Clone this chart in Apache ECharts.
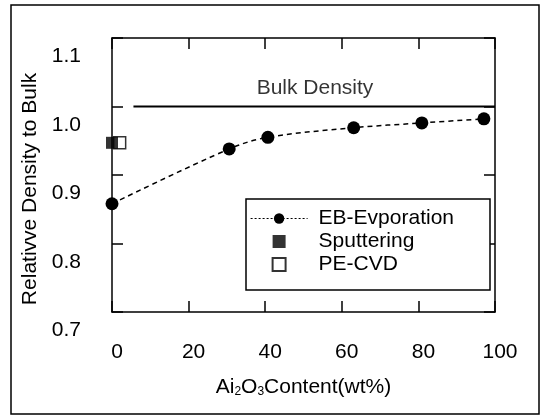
<!DOCTYPE html>
<html>
<head>
<meta charset="utf-8">
<script src="https://cdn.jsdelivr.net/npm/echarts@6/dist/echarts.min.js"></script>
<style>
html, body { margin: 0; padding: 0; background: #fff; }
#chart { width: 545px; height: 416px; }
</style>
</head>
<body>
<div id="chart"></div>
<script>
// values
var ebX = [0, 30.6, 40.7, 63.1, 80.9, 97.1];
var ebY = [0.858, 0.938, 0.955, 0.969, 0.976, 0.982];
var sputterX = [0];
var sputterY = [0.947];
var pecvdX = [2];
var pecvdY = [0.947];
var bulkX = [5.6, 100];
var bulkY = [1.0, 1.0];
var bulkLabelPos = [53, 1.026];

var font = '"Liberation Sans", Arial, sans-serif';
var squareIcon = 'path://M0,0H10V10H0Z';

function pairs(xs, ys) {
    return xs.map(function (x, i) { return [x, ys[i]]; });
}

var chart = echarts.init(document.getElementById('chart'));

var tickStyle = { show: true, inside: true, length: 11, lineStyle: { color: '#000', width: 1.5 } };
var lineStyle = { show: true, onZero: false, lineStyle: { color: '#000', width: 1.5 } };

option = {
    backgroundColor: '#fff',
    animation: false,
    graphic: [{
        type: 'rect',
        shape: { x: 11, y: 5, width: 528, height: 409 },
        style: { fill: 'none', stroke: '#000', lineWidth: 1.5 },
        silent: true
    }],
    grid: { left: 112, right: 50, top: 38, bottom: 104, show: false },
    xAxis: [{
        type: 'value', position: 'bottom', min: 0, max: 100, interval: 20,
        axisLine: lineStyle, axisTick: tickStyle, splitLine: { show: false },
        axisLabel: { margin: 30, color: '#000', fontSize: 21, fontFamily: font, padding: [0, 0, 0, 10] },
        name: '{a|Ai}{s|2}{a|O}{s|3}{a|Content(wt%)}',
        nameLocation: 'middle', nameGap: 64,
        nameTextStyle: {
            color: '#000',
            rich: {
                a: { fontSize: 21, fontFamily: font, color: '#000', lineHeight: 22 },
                s: { fontSize: 12, fontFamily: font, color: '#000', lineHeight: 12, verticalAlign: 'bottom' }
            }
        }
    }, {
        type: 'value', position: 'top', min: 0, max: 100, interval: 20,
        axisLine: lineStyle, axisTick: tickStyle, splitLine: { show: false },
        axisLabel: { show: false }
    }],
    yAxis: [{
        type: 'value', position: 'left', min: 0.7, max: 1.1, interval: 0.1,
        axisLine: lineStyle, axisTick: tickStyle, splitLine: { show: false },
        axisLabel: {
            margin: 31, color: '#000', fontSize: 21, fontFamily: font,
            verticalAlign: 'top', padding: [8, 0, 0, 0],
            formatter: function (v) { return v.toFixed(1); }
        },
        name: 'Relativve Density to Bulk',
        nameLocation: 'middle', nameGap: 68,
        nameTextStyle: { color: '#000', fontSize: 21, fontFamily: font, padding: [0, 28, 0, 0] }
    }, {
        type: 'value', position: 'right', min: 0.7, max: 1.1, interval: 0.1,
        axisLine: lineStyle, axisTick: tickStyle, splitLine: { show: false },
        axisLabel: { show: false }
    }],
    legend: {
        orient: 'vertical', left: 246, top: 199,
        padding: [8, 36, 14, 4],
        itemWidth: 57, itemHeight: 13, itemGap: 0,
        symbolKeepAspect: true,
        borderColor: '#000', borderWidth: 1.5, backgroundColor: '#fff',
        textStyle: { color: '#000', fontSize: 21, fontFamily: font, lineHeight: 23, padding: [0, 0, 0, 6] },
        data: [
            { name: 'EB-Evporation', lineStyle: { type: [2, 2], width: 1.2 } },
            { name: 'Sputtering', icon: squareIcon },
            { name: 'PE-CVD', icon: squareIcon }
        ]
    },
    series: [{
        name: 'Bulk',
        type: 'line',
        data: pairs(bulkX, bulkY),
        symbol: 'none',
        lineStyle: { color: '#000', width: 2 },
        silent: true
    }, {
        name: 'BulkLabel',
        type: 'scatter',
        data: [bulkLabelPos],
        symbolSize: 0,
        label: {
            show: true, position: 'inside', formatter: 'Bulk Density',
            color: '#000', fontSize: 21, fontFamily: font
        },
        silent: true
    }, {
        name: 'EB-Evporation',
        type: 'line',
        data: pairs(ebX, ebY),
        smooth: 0.35,
        clip: false,
        symbol: 'circle',
        symbolSize: 13,
        itemStyle: { color: '#000' },
        lineStyle: { color: '#000', width: 1.5, type: [5, 4] },
        z: 3
    }, {
        name: 'PE-CVD',
        type: 'scatter',
        data: pairs(pecvdX, pecvdY),
        symbol: 'rect',
        symbolSize: 12,
        itemStyle: { color: '#fff', borderColor: '#000', borderWidth: 1.5 },
        z: 3
    }, {
        name: 'Sputtering',
        type: 'scatter',
        data: pairs(sputterX, sputterY),
        symbol: 'rect',
        symbolSize: 12,
        itemStyle: { color: '#000' },
        z: 4
    }]
};
chart.setOption(option);
window.addEventListener('resize', function () {
    chart.resize();
});
</script>
</body>
</html>
